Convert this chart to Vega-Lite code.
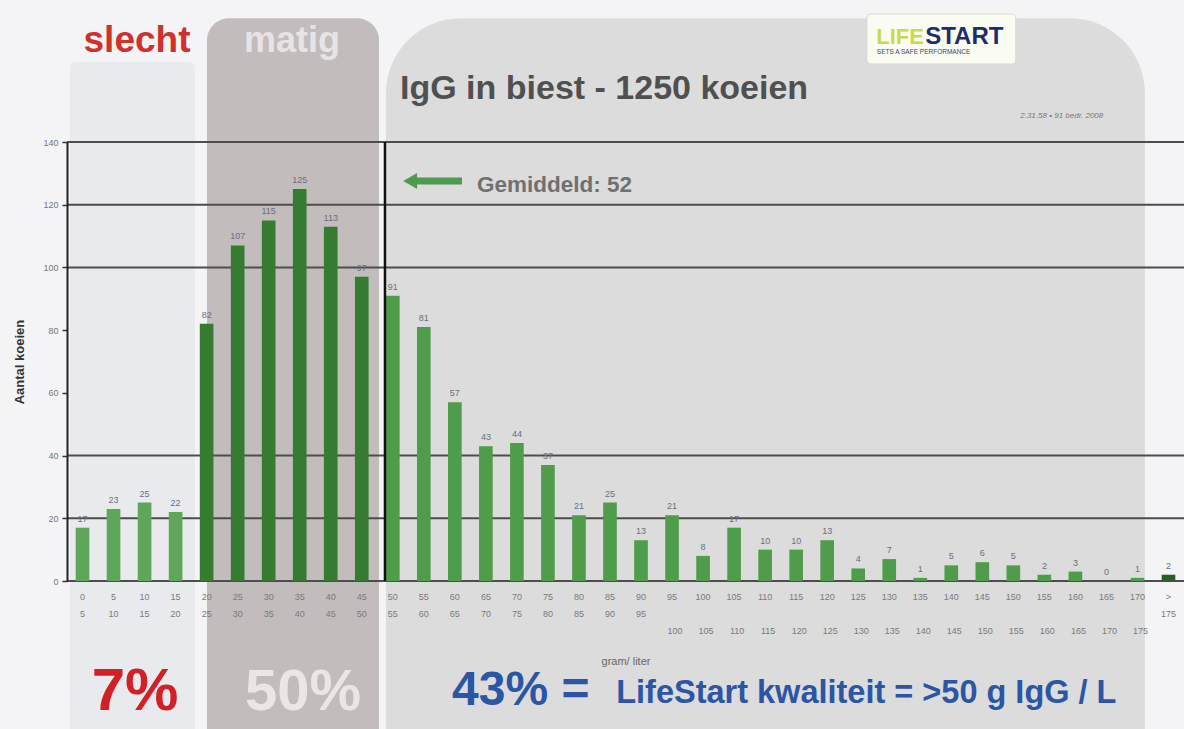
{
  "$schema": "https://vega.github.io/schema/vega-lite/v6.json",
  "width": 1117,
  "height": 439,
  "autosize": {"type": "none"},
  "padding": {"left": 67, "top": 142, "right": 0, "bottom": 148},
  "background": "#f4f4f6",
  "config": {"view": {"stroke": null}, "font": "Liberation Sans"},
  "resolve": {"scale": {"x": "independent"}},
  "layer": [
    {
      "encoding": {
        "x": {"field": "x", "type": "quantitative", "scale": {"domain": [0, 180], "nice": false, "zero": false}, "axis": null},
        "x2": {"field": "x2"},
        "y": {"field": "y", "type": "quantitative", "scale": {"domain": [0, 140], "nice": false, "zero": false}},
        "y2": {"field": "y2"}
      },
      "layer": [
        {"data": {"values": [{"x": 0.48, "x2": 20.6, "y": -60, "y2": 165.5}]}, "mark": {"type": "rect", "fill": "#e9eaee", "cornerRadius": 6, "clip": false}},
        {"data": {"values": [{"x": 22.56, "x2": 50.28, "y": -60, "y2": 179.5}]}, "mark": {"type": "rect", "fill": "#c2bcbd", "cornerRadius": 22, "clip": false}},
        {"data": {"values": [{"x": 51.4, "x2": 173.7, "y": -80, "y2": 179.5}]}, "mark": {"type": "rect", "fill": "#dcdcdd", "cornerRadius": 75, "clip": false}}
      ]
    },
    {
      "data": {"values": [
        {"bin": "0-5", "hi": 5, "n": 17, "zone": "slecht"},
        {"bin": "5-10", "hi": 10, "n": 23, "zone": "slecht"},
        {"bin": "10-15", "hi": 15, "n": 25, "zone": "slecht"},
        {"bin": "15-20", "hi": 20, "n": 22, "zone": "slecht"},
        {"bin": "20-25", "hi": 25, "n": 82, "zone": "matig"},
        {"bin": "25-30", "hi": 30, "n": 107, "zone": "matig"},
        {"bin": "30-35", "hi": 35, "n": 115, "zone": "matig"},
        {"bin": "35-40", "hi": 40, "n": 125, "zone": "matig"},
        {"bin": "40-45", "hi": 45, "n": 113, "zone": "matig"},
        {"bin": "45-50", "hi": 50, "n": 97, "zone": "matig"},
        {"bin": "50-55", "hi": 55, "n": 91, "zone": "goed"},
        {"bin": "55-60", "hi": 60, "n": 81, "zone": "goed"},
        {"bin": "60-65", "hi": 65, "n": 57, "zone": "goed"},
        {"bin": "65-70", "hi": 70, "n": 43, "zone": "goed"},
        {"bin": "70-75", "hi": 75, "n": 44, "zone": "goed"},
        {"bin": "75-80", "hi": 80, "n": 37, "zone": "goed"},
        {"bin": "80-85", "hi": 85, "n": 21, "zone": "goed"},
        {"bin": "85-90", "hi": 90, "n": 25, "zone": "goed"},
        {"bin": "90-95", "hi": 95, "n": 13, "zone": "goed"},
        {"bin": "95-100", "hi": 100, "n": 21, "zone": "goed"},
        {"bin": "100-105", "hi": 105, "n": 8, "zone": "goed"},
        {"bin": "105-110", "hi": 110, "n": 17, "zone": "goed"},
        {"bin": "110-115", "hi": 115, "n": 10, "zone": "goed"},
        {"bin": "115-120", "hi": 120, "n": 10, "zone": "goed"},
        {"bin": "120-125", "hi": 125, "n": 13, "zone": "goed"},
        {"bin": "125-130", "hi": 130, "n": 4, "zone": "goed"},
        {"bin": "130-135", "hi": 135, "n": 7, "zone": "goed"},
        {"bin": "135-140", "hi": 140, "n": 1, "zone": "goed"},
        {"bin": "140-145", "hi": 145, "n": 5, "zone": "goed"},
        {"bin": "145-150", "hi": 150, "n": 6, "zone": "goed"},
        {"bin": "150-155", "hi": 155, "n": 5, "zone": "goed"},
        {"bin": "155-160", "hi": 160, "n": 2, "zone": "goed"},
        {"bin": "160-165", "hi": 165, "n": 3, "zone": "goed"},
        {"bin": "165-170", "hi": 170, "n": 0, "zone": "goed"},
        {"bin": "170-175", "hi": 175, "n": 1, "zone": "goed"},
        {"bin": ">175", "n": 2, "zone": "top"}
      ]},
      "layer": [
        {
          "data": {"values": [{"g": 0}, {"g": 20}, {"g": 40}, {"g": 100}, {"g": 120}, {"g": 140}]},
          "mark": {"type": "rule", "color": "#4d4d4d", "strokeWidth": 2},
          "encoding": {"y": {"field": "g", "type": "quantitative", "scale": {"domain": [0, 140], "nice": false, "zero": false}}}
        },
        {
          "mark": {"type": "bar"},
          "encoding": {
            "x": {"field": "bin", "type": "nominal", "sort": null,
              "scale": {"paddingInner": 0.56, "paddingOuter": 0.28},
              "axis": {"orient": "bottom", "zindex": 1, "title": "gram/ liter", "labelAngle": 0, "labelExpr": "datum.value == '>175' ? ['>', '175'] : (toNumber(split(datum.value, '-')[1]) >= 100 ? split(datum.value, '-')[0] : split(datum.value, '-'))", "labelFontSize": 9, "labelColor": "#7a7a7a", "labelLineHeight": 17, "labelPadding": 11, "labelDx": 3, "labelOverlap": false, "labelBound": false, "ticks": false, "domain": false, "titleFontSize": 11, "titleFontWeight": "normal", "titleColor": "#666", "titleY": 74}},
            "y": {"field": "n", "type": "quantitative", "scale": {"domain": [0, 140], "nice": false, "zero": false},
              "axis": {"orient": "left", "zindex": 1, "values": [0, 20, 40, 60, 80, 100, 120, 140], "grid": false, "domain": true, "domainColor": "#222", "domainWidth": 2, "ticks": true, "tickColor": "#333", "tickSize": 5, "tickWidth": 1.5, "labels": true, "labelFontSize": 9, "labelColor": "#777", "labelPadding": 4, "title": "Aantal koeien", "titleFontSize": 13, "titleFontWeight": "bold", "titleColor": "#333", "titlePadding": 16}},
            "color": {"field": "zone", "type": "nominal", "scale": {"domain": ["slecht", "matig", "goed", "top"], "range": ["#5ea65a", "#357c31", "#4f9c4b", "#2f5a2c"]}, "legend": null}
          }
        },
        {
          "mark": {"type": "text", "fontSize": 9, "color": "#6b6f7f", "baseline": "bottom", "dy": -4},
          "encoding": {
            "x": {"field": "bin", "type": "nominal", "sort": null},
            "y": {"field": "n", "type": "quantitative", "scale": {"domain": [0, 140], "nice": false, "zero": false}},
            "text": {"field": "n", "type": "quantitative"}
          }
        },
        {
          "transform": [{"filter": "datum.hi >= 100"}],
          "mark": {"type": "text", "fontSize": 9, "color": "#7a7a7a", "baseline": "middle", "dx": 3, "clip": false},
          "encoding": {
            "x": {"field": "bin", "type": "nominal", "sort": null},
            "y": {"datum": -15.94, "type": "quantitative"},
            "text": {"field": "hi", "type": "quantitative"}
          }
        }
      ]
    },
    {
      "encoding": {
        "x": {"field": "x", "type": "quantitative", "scale": {"domain": [0, 180], "nice": false, "zero": false}, "axis": null},
        "y": {"field": "y", "type": "quantitative", "scale": {"domain": [0, 140], "nice": false, "zero": false}}
      },
      "layer": [
        {"data": {"values": [{"x": 51.24, "y": 0, "y2": 140}]}, "mark": {"type": "rule", "color": "#111", "strokeWidth": 2.5, "clip": false}, "encoding": {"y2": {"field": "y2"}}},
        {"data": {"values": [{"x": 55.9, "x2": 63.65, "y": 127.55}]}, "mark": {"type": "rule", "color": "#4f9a4f", "strokeWidth": 7, "clip": false}, "encoding": {"x2": {"field": "x2"}}},
        {"data": {"values": [{"x": 55.3, "y": 127.55}]}, "mark": {"type": "point", "shape": "triangle-left", "filled": true, "color": "#4f9a4f", "size": 260, "opacity": 1, "clip": false}},
        {"data": {"values": [{"x": 128.9, "x2": 152.9, "y": 164.9, "y2": 180.8}]}, "mark": {"type": "rect", "fill": "#fbfcf1", "stroke": "#d8d8d0", "strokeWidth": 1, "cornerRadius": 4, "clip": false}, "encoding": {"x2": {"field": "x2"}, "y2": {"field": "y2"}}},
        {"data": {"values": [{"x": 130.4, "y": 171.2, "t": "LIFE"}]}, "mark": {"type": "text", "align": "left", "baseline": "alphabetic", "fontSize": 22, "fontWeight": "bold", "color": "#c8da4e", "clip": false}, "encoding": {"text": {"field": "t"}}},
        {"data": {"values": [{"x": 138.3, "y": 171.2, "t": "START"}]}, "mark": {"type": "text", "align": "left", "baseline": "alphabetic", "fontSize": 24, "fontWeight": "bold", "color": "#1f2d6b", "clip": false}, "encoding": {"text": {"field": "t"}}},
        {"data": {"values": [{"x": 130.5, "y": 168.2, "t": "SETS A SAFE PERFORMANCE"}]}, "mark": {"type": "text", "align": "left", "baseline": "alphabetic", "fontSize": 6.5, "color": "#3a4470", "clip": false}, "encoding": {"text": {"field": "t"}}},
        {"data": {"values": [{"x": 11.28, "y": 168.7, "t": "slecht"}]}, "mark": {"type": "text", "align": "center", "baseline": "alphabetic", "fontSize": 37, "fontWeight": "bold", "color": "#d0312d", "clip": false}, "encoding": {"text": {"field": "t"}}},
        {"data": {"values": [{"x": 36.26, "y": 168.7, "t": "matig"}]}, "mark": {"type": "text", "align": "center", "baseline": "alphabetic", "fontSize": 36, "fontWeight": "bold", "color": "#e8e3e4", "clip": false}, "encoding": {"text": {"field": "t"}}},
        {"data": {"values": [{"x": 53.66, "y": 153.7, "t": "IgG in biest - 1250 koeien"}]}, "mark": {"type": "text", "align": "left", "baseline": "alphabetic", "fontSize": 34, "fontWeight": "bold", "color": "#505050", "clip": false}, "encoding": {"text": {"field": "t"}}},
        {"data": {"values": [{"x": 160.3, "y": 147.6, "t": "2.31.58 • 91 bedr. 2008"}]}, "mark": {"type": "text", "align": "center", "baseline": "alphabetic", "fontSize": 8, "fontStyle": "italic", "color": "#777", "clip": false}, "encoding": {"text": {"field": "t"}}},
        {"data": {"values": [{"x": 66.07, "y": 124.0, "t": "Gemiddeld: 52"}]}, "mark": {"type": "text", "align": "left", "baseline": "alphabetic", "fontSize": 22.5, "fontWeight": "bold", "color": "#707070", "clip": false}, "encoding": {"text": {"field": "t"}}},
        {"data": {"values": [{"x": 10.96, "y": -41.1, "t": "7%"}]}, "mark": {"type": "text", "align": "center", "baseline": "alphabetic", "fontSize": 60, "fontWeight": "bold", "color": "#d22027", "clip": false}, "encoding": {"text": {"field": "t"}}},
        {"data": {"values": [{"x": 38.03, "y": -41.1, "t": "50%"}]}, "mark": {"type": "text", "align": "center", "baseline": "alphabetic", "fontSize": 58, "fontWeight": "bold", "color": "#ebe6e6", "clip": false}, "encoding": {"text": {"field": "t"}}},
        {"data": {"values": [{"x": 62.04, "y": -39.5, "t": "43% ="}]}, "mark": {"type": "text", "align": "left", "baseline": "alphabetic", "fontSize": 48, "fontWeight": "bold", "color": "#2b55a5", "clip": false}, "encoding": {"text": {"field": "t"}}},
        {"data": {"values": [{"x": 88.5, "y": -38.9, "t": "LifeStart kwaliteit = >50 g IgG / L"}]}, "mark": {"type": "text", "align": "left", "baseline": "alphabetic", "fontSize": 32.5, "fontWeight": "bold", "color": "#2b55a5", "clip": false}, "encoding": {"text": {"field": "t"}}}
      ]
    }
  ]
}
